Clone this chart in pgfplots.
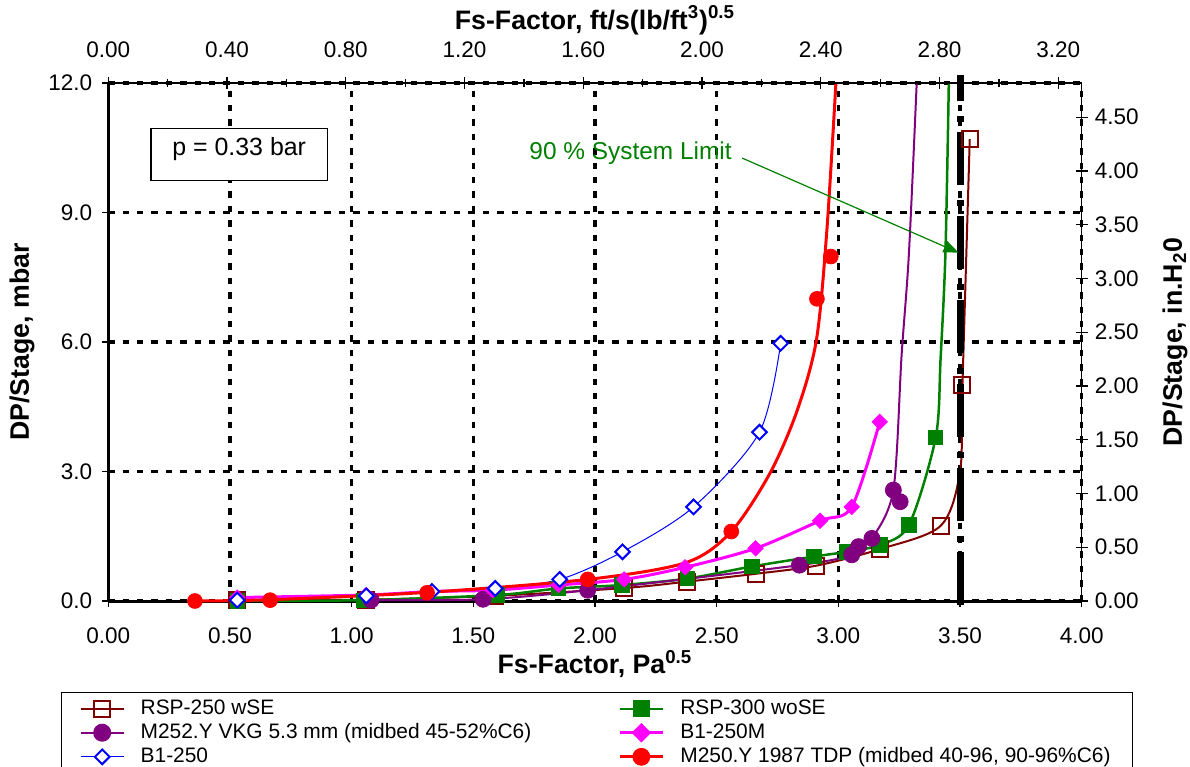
\documentclass[border=0pt]{standalone}
\usepackage{pgfplots}
\pgfplotsset{compat=1.18}
\usepackage{fontspec}
\setmainfont{Liberation Sans}
\usetikzlibrary{arrows.meta}
\definecolor{cMaroon}{RGB}{128,0,0}
\definecolor{cGreen}{RGB}{0,128,0}
\definecolor{cPurple}{RGB}{128,0,128}
\definecolor{cMag}{RGB}{255,0,255}
\definecolor{cBlue}{RGB}{0,0,255}
\definecolor{cRed}{RGB}{255,0,0}
\pgfplotsset{/pgf/number format/assume math mode=true}
\begin{document}
\begin{tikzpicture}
\begin{axis}[
  at={(0,0)}, anchor=south west, scale only axis,
  width=486.7bp, height=259bp,
  xmin=0, xmax=4, ymin=0, ymax=12,
  axis x line*=bottom, axis y line*=left,
  axis line style={-, line width=1.5bp},
  xtick={0,0.5,1,1.5,2,2.5,3,3.5,4},
  ytick={0,3,6,9,12},
  tick align=center, major tick length=6bp,
  tick style={black, line width=0.7bp},
  grid=major,
  major grid style={black, line width=1.6bp, dash pattern=on 3.2bp off 4bp},
  x tick label style={/pgf/number format/fixed, /pgf/number format/fixed zerofill, /pgf/number format/precision=2, yshift=-7bp},
  y tick label style={/pgf/number format/fixed, /pgf/number format/fixed zerofill, /pgf/number format/precision=1, xshift=-1.5bp},
  tick label style={font=\fontsize{11.3}{13}\selectfont},
  label style={font=\fontsize{13.4}{15}\selectfont\bfseries},
  xlabel={Fs-Factor, Pa\textsuperscript{0.5}},
  xlabel style={at={(axis description cs:0.5,-0.1409)}, anchor=base},
  ylabel={DP/Stage, mbar},
  ylabel style={at={(axis description cs:-0.0887,0.5)}, anchor=center},
  clip=false,
  legend columns=2,
  legend cell align=left,
  legend image code/.code={\draw[mark repeat=2,mark phase=2,#1] plot coordinates {(0bp,0bp)(10.75bp,0bp)(21.5bp,0bp)};},
  legend style={at={(-0.0483,-0.1751)}, anchor=north west, draw=black,
    font=\fontsize{10.5}{12}\selectfont, row sep=-1bp, inner xsep=9bp,
    /tikz/every odd column/.append style={column sep=6bp},
    /tikz/column 2/.style={column sep=41.5bp}},
]
% legend images
\addlegendimage{cMaroon, line width=1bp, mark=square, mark size=4bp, mark options={solid}}
\addlegendentry{RSP-250 wSE}
\addlegendimage{cGreen, line width=1.25bp, mark=square*, mark size=3.6bp}
\addlegendentry{RSP-300 woSE}
\addlegendimage{cPurple, line width=1bp, mark=*, mark size=4bp}
\addlegendentry{M252.Y VKG 5.3 mm (midbed 45-52\%C6)}
\addlegendimage{cMag, line width=1.5bp, mark=square*, mark size=2.7bp, mark options={rotate=45}}
\addlegendentry{B1-250M}
\addlegendimage{cBlue, line width=0.5bp, mark=square*, mark size=2.6bp, mark options={rotate=45, fill=white, line width=1bp}}
\addlegendentry{B1-250}
\addlegendimage{cRed, line width=1.5bp, mark=*, mark size=3.7bp}
\addlegendentry{M250.Y 1987 TDP (midbed 40-96, 90-96\%C6)}

% RSP-250 wSE
\addplot[cMaroon, line width=1bp, smooth, forget plot] coordinates {
(0.53,0.02)(1.06,0.03)(1.59,0.12)(2.12,0.30)(2.38,0.45)(2.66,0.63)(2.91,0.82)(3.17,1.20)(3.42,1.74)(3.50,3.0)(3.51,5.00)(3.54,10.70)};
\addplot[cMaroon, only marks, mark=square, mark size=4bp, line width=1bp, forget plot] coordinates {
(0.53,0.02)(1.06,0.03)(1.59,0.12)(2.12,0.30)(2.38,0.45)(2.66,0.63)(2.91,0.82)(3.17,1.20)(3.42,1.74)(3.51,5.00)(3.54,10.70)};
% RSP-300 woSE
\addplot[cGreen, line width=1.25bp, smooth, forget plot] coordinates {
(0.53,0.0)(1.05,0.02)(1.60,0.14)(1.85,0.29)(2.11,0.37)(2.38,0.52)(2.645,0.80)(2.90,1.03)(3.035,1.14)(3.17,1.30)(3.29,1.76)(3.40,3.79)(3.42,5.6)(3.44,8.05)(3.454,12)};
\addplot[cGreen, only marks, mark=square*, mark size=3.6bp, forget plot] coordinates {
(0.53,0.0)(1.05,0.02)(1.60,0.14)(1.85,0.29)(2.11,0.37)(2.38,0.52)(2.645,0.80)(2.90,1.03)(3.035,1.14)(3.17,1.30)(3.29,1.76)(3.40,3.79)};
% M252.Y
\addplot[cPurple, line width=1bp, smooth, forget plot] coordinates {
(1.08,0.02)(1.54,0.04)(1.97,0.25)(2.84,0.83)(3.055,1.07)(3.083,1.26)(3.138,1.45)(3.226,2.57)(3.26,5.7)(3.29,8.05)(3.322,12)};
\addplot[cPurple, only marks, mark=*, mark size=4bp, forget plot] coordinates {
(1.08,0.02)(1.54,0.04)(1.97,0.25)(2.84,0.83)(3.055,1.07)(3.083,1.26)(3.138,1.45)(3.254,2.30)(3.226,2.57)};
% B1-250M
\addplot[cMag, line width=1.5bp, smooth, forget plot] coordinates {
(0.53,0.08)(1.06,0.14)(1.33,0.22)(1.58,0.25)(1.85,0.37)(2.12,0.50)(2.37,0.78)(2.66,1.22)(2.925,1.86)(3.055,2.18)(3.17,4.15)};
\addplot[cMag, only marks, mark=square*, mark size=2.7bp, mark options={rotate=45}, forget plot] coordinates {
(0.53,0.08)(1.06,0.14)(1.33,0.22)(1.58,0.25)(1.85,0.37)(2.12,0.50)(2.37,0.78)(2.66,1.22)(2.925,1.86)(3.055,2.18)(3.17,4.15)};
% B1-250
\addplot[cBlue, line width=0.5bp, smooth, forget plot] coordinates {
(0.53,0.02)(1.06,0.12)(1.33,0.22)(1.59,0.29)(1.855,0.50)(2.113,1.14)(2.405,2.18)(2.676,3.91)(2.763,5.97)};
\addplot[cBlue, only marks, mark=square*, mark size=2.6bp, mark options={rotate=45, fill=white, line width=1bp}, forget plot] coordinates {
(0.53,0.02)(1.06,0.12)(1.33,0.22)(1.59,0.29)(1.855,0.50)(2.113,1.14)(2.405,2.18)(2.676,3.91)(2.763,5.97)};
% M250.Y 1987 TDP
\addplot[cRed, line width=1.5bp, smooth, forget plot] coordinates {
(0.356,0.0)(0.665,0.03)(1.31,0.2)(1.97,0.5)(2.374,0.89)(2.56,1.61)(2.719,2.96)(2.83,4.4)(2.91,6.05)(2.953,8.6)(2.99,12)};
\addplot[cRed, only marks, mark=*, mark size=3.7bp, forget plot] coordinates {
(0.356,0.0)(0.665,0.02)(1.31,0.19)(1.97,0.50)(2.56,1.61)(2.912,7.0)(2.969,7.98)};
% system limit line
\addplot[black, line width=3.5bp, dash pattern=on 26.5bp off 5bp on 3bp off 7.5bp, forget plot] coordinates {(3.5,-0.09)(3.5,12.18)};
% annotations
\node[draw=black, line width=0.6bp, minimum width=88.3bp, minimum height=25.8bp, inner sep=0pt, fill=white] at (axis cs:0.538,10.34) {};
\node[anchor=base, font=\fontsize{12.5}{14}\selectfont, inner sep=0pt] at (axis cs:0.538,10.33) {p = 0.33 bar};
\node[anchor=base, font=\fontsize{12.25}{14}\selectfont, text=cGreen, inner sep=0pt] at (axis cs:2.146,10.23) {90 \% System Limit};
\draw[cGreen, line width=0.6bp, -{Triangle[length=7.5bp, width=6bp]}] (axis cs:2.605,10.26) -- (axis cs:3.494,8.07);
\end{axis}
\begin{axis}[
  at={(0,0)}, anchor=south west, scale only axis,
  width=486.7bp, height=259bp,
  xmin=0, xmax=3.27896, ymin=0, ymax=4.81756,
  axis x line*=top, axis y line*=right,
  axis line style={-, line width=0.6bp},
  xtick={0,0.4,0.8,1.2,1.6,2,2.4,2.8,3.2},
  minor xtick={0.2,0.6,1.0,1.4,1.8,2.2,2.6,3.0},
  ytick={0,0.5,1,1.5,2,2.5,3,3.5,4,4.5},
  tick align=center, major tick length=6bp, minor tick length=4bp,
  tick style={black, line width=0.6bp},
  x tick label style={/pgf/number format/fixed, /pgf/number format/fixed zerofill, /pgf/number format/precision=2, yshift=6bp},
  y tick label style={/pgf/number format/fixed, /pgf/number format/fixed zerofill, /pgf/number format/precision=2},
  tick label style={font=\fontsize{11.3}{13}\selectfont},
  label style={font=\fontsize{13.4}{15}\selectfont\bfseries},
  xlabel={Fs-Factor, ft/s(lb/ft\textsuperscript{3})\textsuperscript{0.5}},
  xlabel style={at={(axis description cs:0.5,1.1042)}, anchor=base},
  ylabel={DP/Stage, in.H\textsubscript{2}0},
  ylabel style={at={(axis description cs:1.0959,0.5)}, anchor=center},
]
\end{axis}
\pgfresetboundingbox
\path[use as bounding box] (-54.15bp,-83bp) rectangle (540.85bp,300.5bp);
\end{tikzpicture}
\end{document}
